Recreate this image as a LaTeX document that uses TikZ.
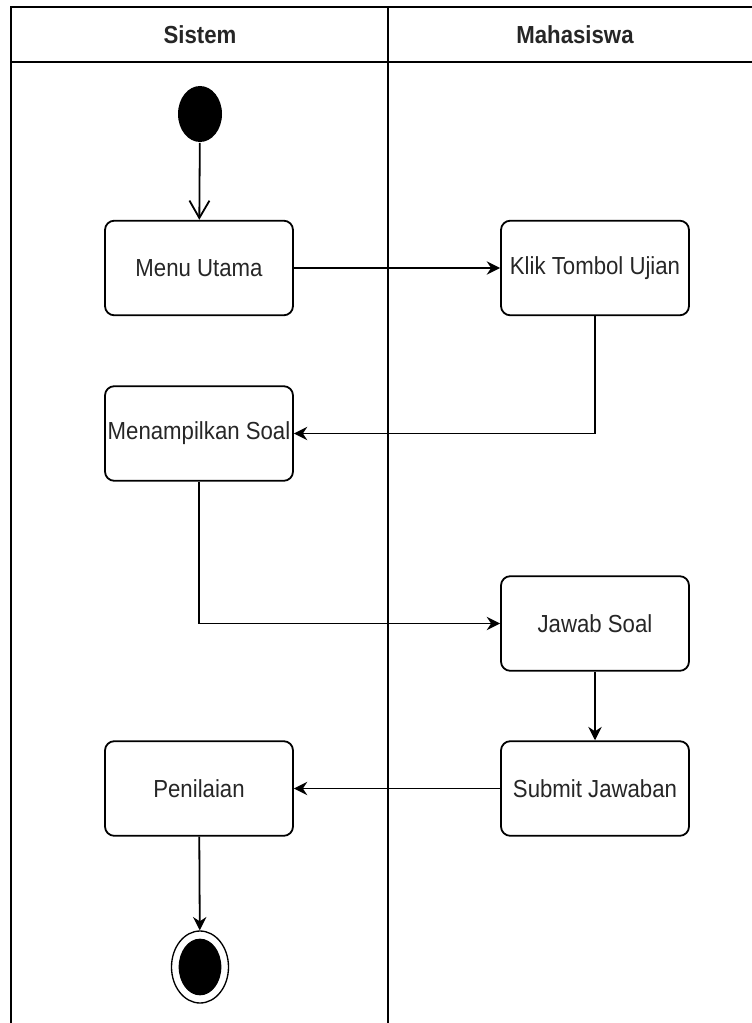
\documentclass[tikz,border=0pt]{standalone}
\usepackage{fontspec}
\setmainfont[FakeStretch=0.9]{Liberation Sans}
\usetikzlibrary{arrows.meta, shapes.geometric}

\tikzset{
  act/.style={draw, rounded corners=7pt, minimum width=141pt, minimum height=71pt,
    inner sep=0pt, text=black!85, font=\fontsize{18.5}{22}\selectfont},
  lanetitle/.style={font=\fontsize{18.5}{22}\selectfont\bfseries, text=black!85},
  startdot/.style={ellipse, fill=black, inner sep=0pt, minimum width=33pt, minimum height=42pt},
  endring/.style={ellipse, draw, line width=1pt, inner sep=0pt, minimum width=42.75pt, minimum height=54pt},
  enddot/.style={ellipse, fill=black, inner sep=0pt, minimum width=32pt, minimum height=42.5pt},
  flow/.style={-{Stealth[length=10pt, width=10pt]}},
  openflow/.style={-{Straight Barb[length=13pt, width=15pt]}},
}

\begin{document}
\begin{tikzpicture}[x=0.75pt, y=-0.75pt, line width=1.35pt]
  \useasboundingbox (0,0) rectangle (752,1023);

  % Draw swimlanes
  \draw (11,1023) -- (11,7) -- (752,7);
  \draw (11,62) -- (752,62);
  \draw (388,7) -- (388,1023);
  \node[lanetitle] (sistem) at (200,35) {Sistem};
  \node[lanetitle] (mahasiswa) at (575,35) {Mahasiswa};

  % Define activities
  \node[startdot] (mulai) at (200,114) {};
  \node[act] (menu) at (199,268) {Menu Utama};
  \node[act] (klik) at (595,268) {Klik Tombol Ujian};
  \node[act] (tampil) at (199,433.5) {Menampilkan Soal};
  \node[act] (jawab) at (595,623.5) {Jawab Soal};
  \node[act] (submit) at (595,788.5) {Submit Jawaban};
  \node[act] (nilai) at (199,788.5) {Penilaian};
  \node[endring] (selesai) at (200,967) {};
  \node[enddot] (selesaiDot) at (selesai) {};

  % Draw flows
  \draw[openflow] (mulai) -- (menu);
  \draw[flow] (menu) -- (klik);
  \draw[flow] (klik.south) |- (tampil.east);
  \draw[flow] (tampil.south) |- (jawab.west);
  \draw[flow] (jawab) -- (submit);
  \draw[flow] (submit) -- (nilai);
  \draw[flow] (nilai) -- (selesai);
\end{tikzpicture}
\end{document}
